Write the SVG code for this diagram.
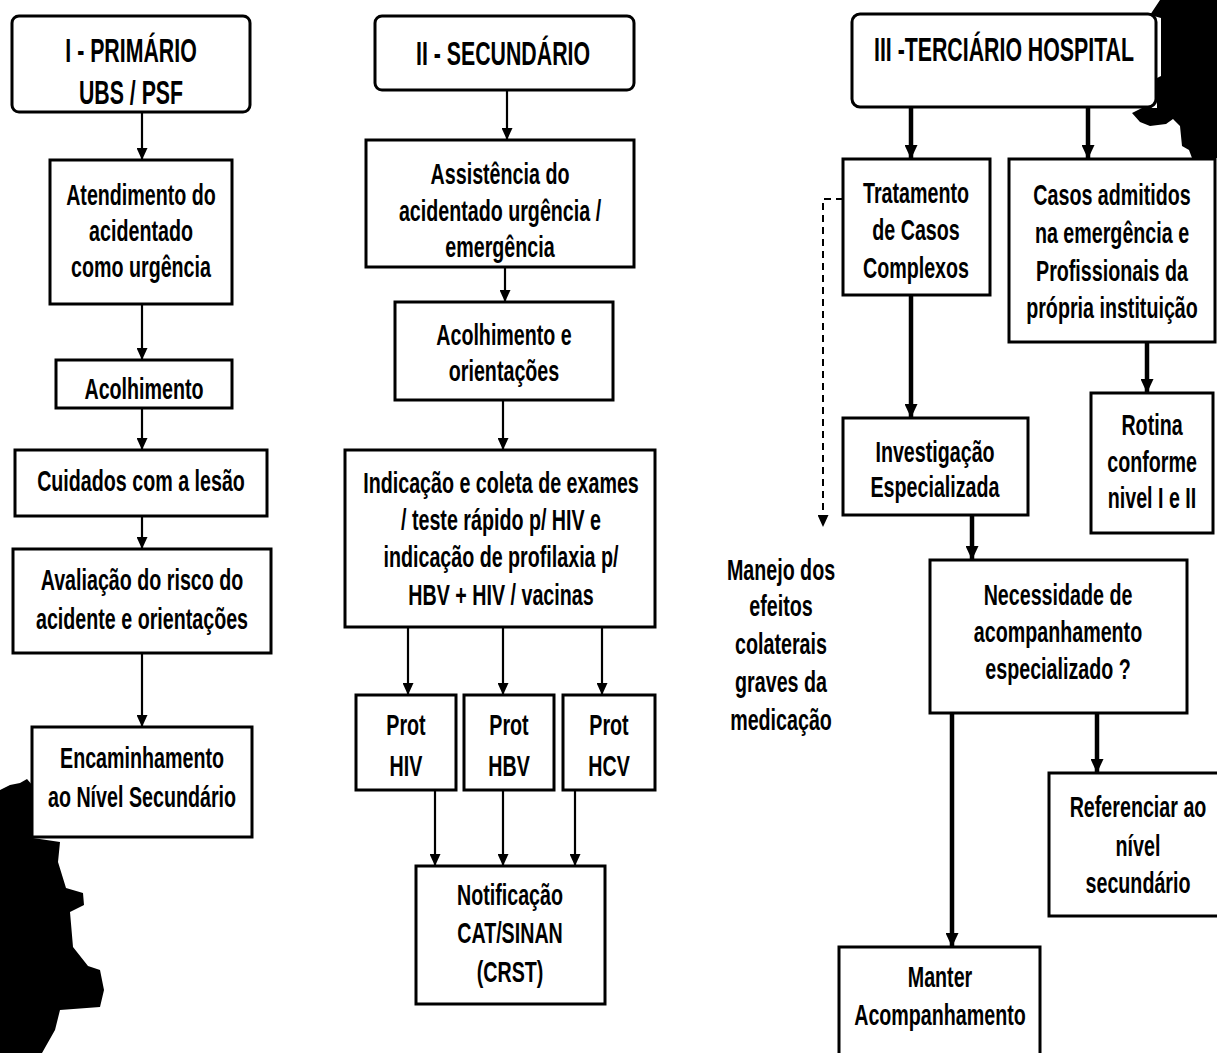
<svg xmlns="http://www.w3.org/2000/svg" width="1217" height="1053" viewBox="0 0 1217 1053">
<style>
.box{fill:#fff;stroke:#000;stroke-width:3}
.t{font-family:"Liberation Sans",Arial,sans-serif;font-weight:bold;font-size:24px;text-anchor:middle;fill:#000}
.h{font-size:26px}
.c{fill:none;stroke:#000;stroke-width:2.2}
.ck{fill:none;stroke:#000;stroke-width:4.5}
.cd{fill:none;stroke:#000;stroke-width:2;stroke-dasharray:7 5}
.blob{fill:#000;stroke:none}
</style>
<defs>
<marker id="ah" markerUnits="userSpaceOnUse" markerWidth="12" markerHeight="11" refX="12" refY="5.5" orient="auto" viewBox="0 0 12 11"><path d="M0,0 L12,5.5 L0,11 z" fill="#000"/></marker>
<marker id="ahk" markerUnits="userSpaceOnUse" markerWidth="14" markerHeight="13" refX="14" refY="6.5" orient="auto" viewBox="0 0 14 13"><path d="M0,0 L14,6.5 L0,13 z" fill="#000"/></marker>
</defs>
<rect width="1217" height="1053" fill="#fff"/>

<g id="scan-artifacts">
<path class="blob" d="M1160,0 H1217 V158 H1192 L1189,150 L1182,146 L1180,126 L1173,119 L1166,124 L1150,126 L1140,122 L1132,113 L1142,108 L1157,108 L1157,78 L1161,76 L1161,18 L1150,15 Z"/>
<path class="blob" d="M0,790 L10,785 L20,783 L27,779 L33,786 V838 L60,842 L58,862 L66,888 L83,893 L84,905 L70,912 L73,947 L88,966 L100,970 L104,990 L100,1007 L60,1010 L55,1030 L42,1053 H0 Z"/>
</g>

<g id="connectors">
<line class="c" x1="142" y1="112" x2="142" y2="160" marker-end="url(#ah)"/>
<line class="c" x1="142" y1="304" x2="142" y2="360" marker-end="url(#ah)"/>
<line class="c" x1="142" y1="408" x2="142" y2="450" marker-end="url(#ah)"/>
<line class="c" x1="142" y1="516" x2="142" y2="549" marker-end="url(#ah)"/>
<line class="c" x1="142" y1="653" x2="142" y2="727" marker-end="url(#ah)"/>

<line class="c" x1="507" y1="90" x2="507" y2="140" marker-end="url(#ah)"/>
<line class="c" x1="505" y1="267" x2="505" y2="302" marker-end="url(#ah)"/>
<line class="c" x1="503" y1="400" x2="503" y2="450" marker-end="url(#ah)"/>
<line class="c" x1="408" y1="627" x2="408" y2="695" marker-end="url(#ah)"/>
<line class="c" x1="503" y1="627" x2="503" y2="695" marker-end="url(#ah)"/>
<line class="c" x1="602" y1="627" x2="602" y2="695" marker-end="url(#ah)"/>
<line class="c" x1="435" y1="790" x2="435" y2="866" marker-end="url(#ah)"/>
<line class="c" x1="503" y1="790" x2="503" y2="866" marker-end="url(#ah)"/>
<line class="c" x1="575" y1="790" x2="575" y2="866" marker-end="url(#ah)"/>

<line class="ck" x1="911" y1="107" x2="911" y2="159" marker-end="url(#ahk)"/>
<line class="ck" x1="1088" y1="107" x2="1088" y2="159" marker-end="url(#ahk)"/>
<line class="ck" x1="911" y1="295" x2="911" y2="418" marker-end="url(#ahk)"/>
<line class="ck" x1="1147" y1="342" x2="1147" y2="393" marker-end="url(#ahk)"/>
<line class="ck" x1="972" y1="515" x2="972" y2="560" marker-end="url(#ahk)"/>
<line class="ck" x1="952" y1="713" x2="952" y2="947" marker-end="url(#ahk)"/>
<line class="ck" x1="1097" y1="713" x2="1097" y2="773" marker-end="url(#ahk)"/>
<path class="cd" d="M843,199 H823 V527" marker-end="url(#ah)"/>
</g>

<g id="n-primario">
<rect class="box" x="12" y="16" width="238" height="96" rx="7"/>
<text class="t h" transform="matrix(0.82 0 0 1.25 131 62)">I - PRIMÁRIO</text>
<text class="t h" transform="matrix(0.82 0 0 1.25 131 104)">UBS / PSF</text>
</g>
<g id="n-atendimento">
<rect class="box" x="50" y="160" width="182" height="144"/>
<text class="t" transform="matrix(0.82 0 0 1.25 141 205)">Atendimento do</text>
<text class="t" transform="matrix(0.82 0 0 1.25 141 241)">acidentado</text>
<text class="t" transform="matrix(0.82 0 0 1.25 141 277)">como urgência</text>
</g>
<g id="n-acolhimento1">
<rect class="box" x="56" y="360" width="176" height="48"/>
<text class="t" transform="matrix(0.82 0 0 1.25 144 399)">Acolhimento</text>
</g>
<g id="n-cuidados">
<rect class="box" x="15" y="450" width="252" height="66"/>
<text class="t" transform="matrix(0.82 0 0 1.25 141 491)">Cuidados com a lesão</text>
</g>
<g id="n-avaliacao">
<rect class="box" x="13" y="549" width="258" height="104"/>
<text class="t" transform="matrix(0.82 0 0 1.25 142 590)">Avaliação do risco do</text>
<text class="t" transform="matrix(0.82 0 0 1.25 142 629)">acidente e orientações</text>
</g>
<g id="n-encaminhamento">
<rect class="box" x="32" y="727" width="220" height="110"/>
<text class="t" transform="matrix(0.82 0 0 1.25 142 768)">Encaminhamento</text>
<text class="t" transform="matrix(0.82 0 0 1.25 142 807)">ao Nível Secundário</text>
</g>

<g id="n-secundario">
<rect class="box" x="375" y="16" width="259" height="74" rx="7"/>
<text class="t h" transform="matrix(0.82 0 0 1.25 503 65)">II - SECUNDÁRIO</text>
</g>
<g id="n-assistencia">
<rect class="box" x="366" y="140" width="268" height="127"/>
<text class="t" transform="matrix(0.82 0 0 1.25 500 184)">Assistência do</text>
<text class="t" transform="matrix(0.82 0 0 1.25 500 221)">acidentado urgência /</text>
<text class="t" transform="matrix(0.82 0 0 1.25 500 257)">emergência</text>
</g>
<g id="n-acolhimento2">
<rect class="box" x="395" y="302" width="218" height="98"/>
<text class="t" transform="matrix(0.82 0 0 1.25 504 345)">Acolhimento e</text>
<text class="t" transform="matrix(0.82 0 0 1.25 504 381)">orientações</text>
</g>
<g id="n-indicacao">
<rect class="box" x="345" y="450" width="310" height="177"/>
<text class="t" transform="matrix(0.82 0 0 1.25 501 493)">Indicação e coleta de exames</text>
<text class="t" transform="matrix(0.82 0 0 1.25 501 530)">/ teste rápido p/ HIV  e</text>
<text class="t" transform="matrix(0.82 0 0 1.25 501 567)">indicação de profilaxia p/</text>
<text class="t" transform="matrix(0.82 0 0 1.25 501 605)">HBV + HIV / vacinas</text>
</g>
<g id="n-prot-hiv">
<rect class="box" x="356" y="695" width="100" height="95"/>
<text class="t" transform="matrix(0.82 0 0 1.25 406 735)">Prot</text>
<text class="t" transform="matrix(0.82 0 0 1.25 406 776)">HIV</text>
</g>
<g id="n-prot-hbv">
<rect class="box" x="464" y="695" width="90" height="95"/>
<text class="t" transform="matrix(0.82 0 0 1.25 509 735)">Prot</text>
<text class="t" transform="matrix(0.82 0 0 1.25 509 776)">HBV</text>
</g>
<g id="n-prot-hcv">
<rect class="box" x="563" y="695" width="92" height="95"/>
<text class="t" transform="matrix(0.82 0 0 1.25 609 735)">Prot</text>
<text class="t" transform="matrix(0.82 0 0 1.25 609 776)">HCV</text>
</g>
<g id="n-notificacao">
<rect class="box" x="416" y="866" width="189" height="138"/>
<text class="t" transform="matrix(0.82 0 0 1.25 510 905)">Notificação</text>
<text class="t" transform="matrix(0.82 0 0 1.25 510 943)">CAT/SINAN</text>
<text class="t" transform="matrix(0.82 0 0 1.25 510 982)">(CRST)</text>
</g>

<g id="n-terciario">
<rect class="box" x="852" y="14" width="304" height="93" rx="8"/>
<text class="t h" transform="matrix(0.82 0 0 1.25 1004 61)">III -TERCIÁRIO HOSPITAL</text>
</g>
<g id="n-tratamento">
<rect class="box" x="843" y="159" width="147" height="136"/>
<text class="t" transform="matrix(0.82 0 0 1.25 916 203)">Tratamento</text>
<text class="t" transform="matrix(0.82 0 0 1.25 916 240)">de Casos</text>
<text class="t" transform="matrix(0.82 0 0 1.25 916 278)">Complexos</text>
</g>
<g id="n-casos">
<rect class="box" x="1009" y="159" width="206" height="183"/>
<text class="t" transform="matrix(0.82 0 0 1.25 1112 205)">Casos admitidos</text>
<text class="t" transform="matrix(0.82 0 0 1.25 1112 243)">na emergência e</text>
<text class="t" transform="matrix(0.82 0 0 1.25 1112 281)">Profissionais da</text>
<text class="t" transform="matrix(0.82 0 0 1.25 1112 318)">própria instituição</text>
</g>
<g id="n-rotina">
<rect class="box" x="1091" y="393" width="122" height="140"/>
<text class="t" transform="matrix(0.82 0 0 1.25 1152 435)">Rotina</text>
<text class="t" transform="matrix(0.82 0 0 1.25 1152 472)">conforme</text>
<text class="t" transform="matrix(0.82 0 0 1.25 1152 508)">nivel I e II</text>
</g>
<g id="n-investigacao">
<rect class="box" x="843" y="418" width="185" height="97"/>
<text class="t" transform="matrix(0.82 0 0 1.25 935 462)">Investigação</text>
<text class="t" transform="matrix(0.82 0 0 1.25 935 497)">Especializada</text>
</g>
<g id="n-manejo">
<text class="t" transform="matrix(0.82 0 0 1.25 781 580)">Manejo dos</text>
<text class="t" transform="matrix(0.82 0 0 1.25 781 616)">efeitos</text>
<text class="t" transform="matrix(0.82 0 0 1.25 781 654)">colaterais</text>
<text class="t" transform="matrix(0.82 0 0 1.25 781 692)">graves da</text>
<text class="t" transform="matrix(0.82 0 0 1.25 781 730)">medicação</text>
</g>
<g id="n-necessidade">
<rect class="box" x="930" y="560" width="257" height="153"/>
<text class="t" transform="matrix(0.82 0 0 1.25 1058 605)">Necessidade de</text>
<text class="t" transform="matrix(0.82 0 0 1.25 1058 642)">acompanhamento</text>
<text class="t" transform="matrix(0.82 0 0 1.25 1058 679)">especializado ?</text>
</g>
<g id="n-referenciar">
<rect class="box" x="1049" y="773" width="170" height="143"/>
<text class="t" transform="matrix(0.82 0 0 1.25 1138 817)">Referenciar ao</text>
<text class="t" transform="matrix(0.82 0 0 1.25 1138 856)">nível</text>
<text class="t" transform="matrix(0.82 0 0 1.25 1138 893)">secundário</text>
</g>
<g id="n-manter">
<rect class="box" x="839" y="947" width="201" height="115"/>
<text class="t" transform="matrix(0.82 0 0 1.25 940 987)">Manter</text>
<text class="t" transform="matrix(0.82 0 0 1.25 940 1025)">Acompanhamento</text>
</g>
</svg>
